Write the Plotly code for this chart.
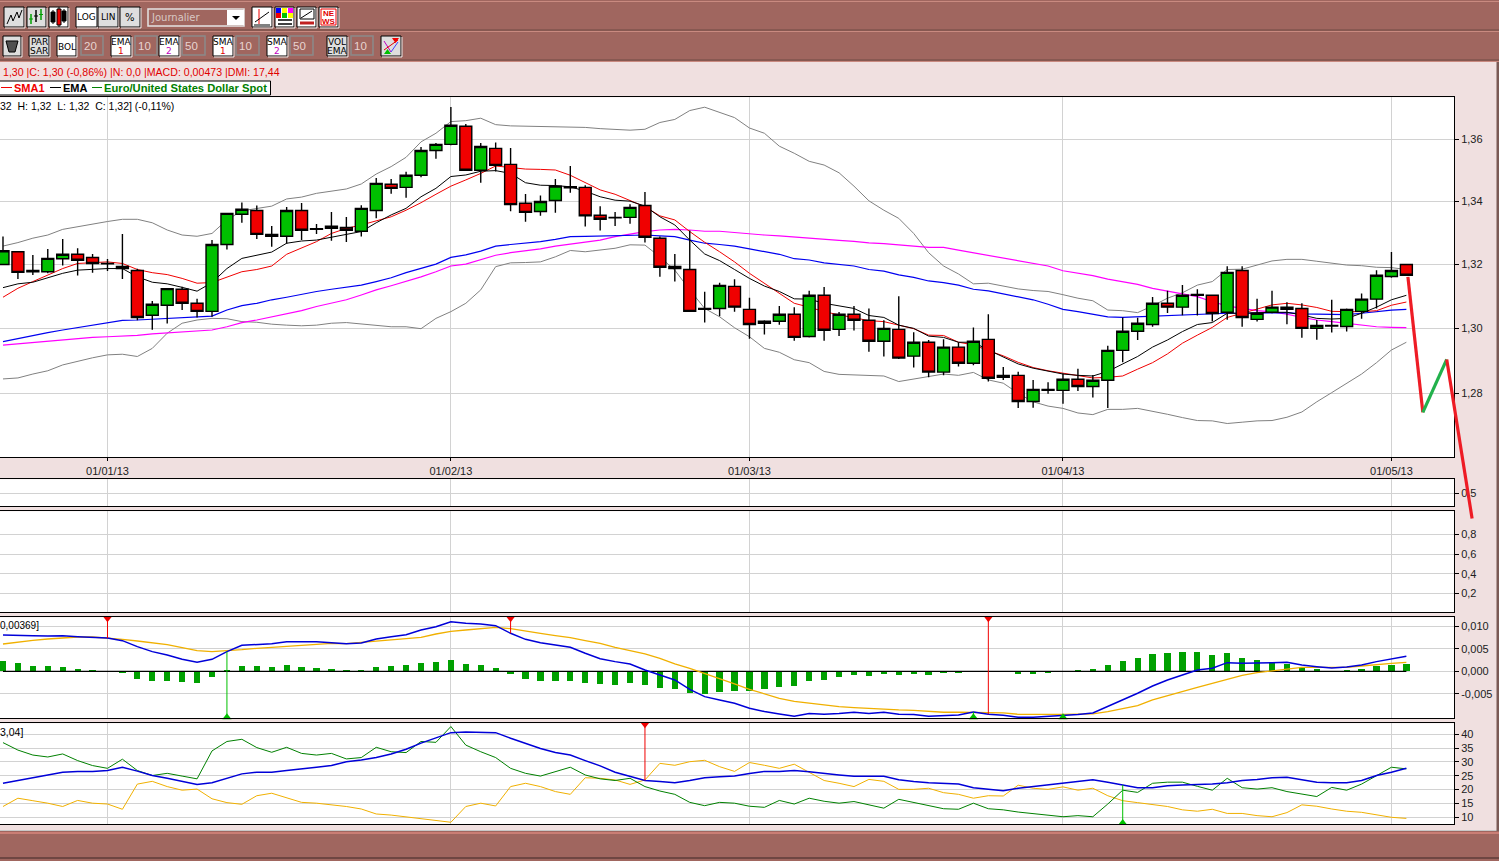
import plotly.graph_objects as go

W, H = 1499, 861

opens = [1.3200,1.3240,1.3177,1.3177,1.3218,1.3232,1.3222,1.3202,1.3194,1.3181,1.3041,1.3072,1.3122,1.3078,1.3053,1.3263,1.3359,1.3371,1.3295,1.3289,
1.3371,1.3311,1.3314,1.3317,1.3305,1.3371,1.3455,1.3445,1.3484,1.3564,1.3584,1.3643,1.3500,1.3571,1.3519,1.3394,1.3368,1.3403,1.3444,1.3445,
1.3356,1.3348,1.3349,1.3387,1.3283,1.3187,1.3184,1.3059,1.3062,1.3131,1.3059,1.3016,1.3022,1.3044,1.2975,1.3103,1.2997,1.3044,1.3025,1.2960,
1.2997,1.2914,1.2957,1.2865,1.2942,1.2892,1.2966,1.2849,1.2855,1.2775,1.2809,1.2809,1.2843,1.2821,1.2840,1.2932,1.2991,1.3012,1.3078,1.3066,
1.3103,1.3103,1.3050,1.3181,1.3028,1.3050,1.3066,1.3062,1.3000,1.3007,1.3006,1.3053,1.3091,1.3162,1.3200]
closes = [1.3243,1.3175,1.3181,1.3219,1.3232,1.3213,1.3203,1.3203,1.3187,1.3034,1.3075,1.3124,1.3078,1.3053,1.3263,1.3362,1.3375,1.3295,1.3289,1.3371,
1.3308,1.3313,1.3321,1.3308,1.3378,1.3458,1.3442,1.3484,1.3564,1.3584,1.3646,1.3500,1.3577,1.3516,1.3390,1.3365,1.3400,1.3449,1.3447,1.3354,
1.3343,1.3349,1.3381,1.3286,1.3191,1.3194,1.3053,1.3062,1.3134,1.3066,1.3012,1.3022,1.3044,1.2972,1.3103,1.2994,1.3044,1.3025,1.2960,1.3000,
1.2908,1.2957,1.2865,1.2942,1.2892,1.2960,1.2846,1.2855,1.2775,1.2812,1.2812,1.2843,1.2821,1.2840,1.2932,1.2991,1.3016,1.3078,1.3066,1.3103,
1.3106,1.3046,1.3175,1.3034,1.3047,1.3066,1.3059,1.3000,1.3009,1.3009,1.3059,1.3091,1.3166,1.3181,1.3166]
highs = [1.3288,1.3240,1.3230,1.3249,1.3280,1.3251,1.3233,1.3217,1.3296,1.3186,1.3085,1.3124,1.3130,1.3092,1.3277,1.3362,1.3397,1.3387,1.3322,1.3382,
1.3395,1.3328,1.3366,1.3350,1.3388,1.3475,1.3472,1.3495,1.3575,1.3588,1.3706,1.3650,1.3588,1.3590,1.3572,1.3424,1.3419,1.3472,1.3514,1.3452,
1.3385,1.3366,1.3391,1.3430,1.3288,1.3233,1.3307,1.3114,1.3142,1.3153,1.3095,1.3025,1.3070,1.3066,1.3117,1.3129,1.3051,1.3070,1.3062,1.3025,
1.3100,1.2988,1.2964,1.2966,1.2957,1.3003,1.3044,1.2881,1.2866,1.2841,1.2834,1.2861,1.2875,1.2856,1.2946,1.3034,1.3033,1.3098,1.3117,1.3135,
1.3122,1.3103,1.3194,1.3194,1.3092,1.3117,1.3081,1.3078,1.3026,1.3089,1.3062,1.3109,1.3182,1.3239,1.3200]
lows = [1.3200,1.3154,1.3167,1.3172,1.3197,1.3165,1.3174,1.3179,1.3154,1.3025,1.2996,1.3015,1.3057,1.3034,1.3036,1.3247,1.3332,1.3280,1.3256,1.3265,
1.3277,1.3296,1.3275,1.3271,1.3288,1.3346,1.3425,1.3412,1.3478,1.3537,1.3581,1.3500,1.3460,1.3496,1.3369,1.3335,1.3354,1.3364,1.3428,1.3320,
1.3307,1.3322,1.3329,1.3269,1.3161,1.3146,1.3053,1.3018,1.3038,1.3052,1.2968,1.2981,1.3011,1.2962,1.2972,1.2962,1.2976,1.2993,1.2928,1.2913,
1.2905,1.2879,1.2849,1.2855,1.2882,1.2886,1.2836,1.2841,1.2755,1.2756,1.2799,1.2768,1.2807,1.2787,1.2755,1.2895,1.2964,1.3005,1.3048,1.3041,
1.3040,1.3021,1.3027,1.3005,1.3021,1.3047,1.3013,1.2971,1.2965,1.2987,1.2990,1.3030,1.3062,1.3158,1.3166]

boll_upper = [1.3258,1.3269,1.3283,1.3293,1.3311,1.3320,1.3327,1.3336,1.3343,1.3343,1.3332,1.3309,1.3293,1.3289,1.3298,1.3341,1.3370,1.3377,1.3385,1.3408,
1.3414,1.3426,1.3434,1.3440,1.3456,1.3488,1.3512,1.3542,1.3592,1.3620,1.3658,1.3661,1.3669,1.3648,1.3644,1.3643,1.3643,1.3643,1.3640,1.3639,
1.3635,1.3633,1.3630,1.3633,1.3655,1.3665,1.3694,1.3705,1.3687,1.3671,1.3637,1.3620,1.3578,1.3555,1.3529,1.3517,1.3492,1.3449,1.3402,1.3372,
1.3346,1.3298,1.3237,1.3195,1.3170,1.3139,1.3141,1.3133,1.3123,1.3118,1.3115,1.3105,1.3094,1.3086,1.3057,1.3055,1.3049,1.3070,1.3094,1.3111,
1.3135,1.3146,1.3184,1.3185,1.3198,1.3211,1.3216,1.3216,1.3210,1.3203,1.3198,1.3196,1.3191,1.3190,1.3184]
boll_lower = [1.2844,1.2847,1.2859,1.2869,1.2887,1.2899,1.2909,1.2918,1.2920,1.2913,1.2938,1.2985,1.3016,1.3026,1.3031,1.3030,1.3021,1.3019,1.3013,1.3010,
1.3008,1.3010,1.3016,1.3018,1.3013,1.3010,1.3005,1.3005,1.2999,1.3031,1.3052,1.3078,1.3120,1.3193,1.3205,1.3206,1.3208,1.3224,1.3244,1.3240,
1.3245,1.3251,1.3262,1.3261,1.3224,1.3182,1.3120,1.3062,1.3036,1.3002,1.2974,1.2938,1.2926,1.2903,1.2894,1.2867,1.2858,1.2857,1.2854,1.2853,
1.2836,1.2843,1.2851,1.2859,1.2855,1.2864,1.2841,1.2831,1.2800,1.2774,1.2761,1.2754,1.2740,1.2735,1.2751,1.2751,1.2754,1.2746,1.2736,1.2726,
1.2717,1.2716,1.2708,1.2712,1.2716,1.2717,1.2727,1.2743,1.2774,1.2802,1.2831,1.2859,1.2894,1.2933,1.2957]
sma_short = [1.3097,1.3125,1.3146,1.3167,1.3187,1.3203,1.3205,1.3208,1.3203,1.3184,1.3174,1.3168,1.3156,1.3141,1.3143,1.3161,1.3177,1.3184,1.3195,1.3232,
1.3251,1.3272,1.3298,1.3314,1.3325,1.3339,1.3351,1.3372,1.3396,1.3423,1.3449,1.3469,1.3490,1.3514,1.3509,1.3504,1.3503,1.3501,1.3484,1.3460,
1.3437,1.3423,1.3402,1.3383,1.3354,1.3341,1.3304,1.3270,1.3240,1.3208,1.3172,1.3141,1.3109,1.3078,1.3066,1.3052,1.3042,1.3034,1.3024,1.3021,
1.3010,1.2999,1.2979,1.2978,1.2957,1.2949,1.2931,1.2915,1.2895,1.2879,1.2869,1.2861,1.2853,1.2847,1.2849,1.2853,1.2874,1.2894,1.2921,1.2954,
1.2979,1.3003,1.3034,1.3047,1.3062,1.3073,1.3078,1.3073,1.3065,1.3053,1.3052,1.3052,1.3055,1.3072,1.3082]
ema_short = [1.3127,1.3139,1.3144,1.3159,1.3172,1.3182,1.3185,1.3187,1.3187,1.3161,1.3144,1.3139,1.3128,1.3116,1.3143,1.3187,1.3219,1.3230,1.3239,1.3267,
1.3274,1.3277,1.3286,1.3293,1.3304,1.3332,1.3357,1.3378,1.3415,1.3442,1.3480,1.3485,1.3497,1.3499,1.3490,1.3460,1.3452,1.3451,1.3447,1.3433,
1.3415,1.3404,1.3401,1.3385,1.3351,1.3325,1.3277,1.3233,1.3212,1.3184,1.3156,1.3132,1.3115,1.3092,1.3091,1.3078,1.3070,1.3062,1.3040,1.3034,
1.3010,1.3000,1.2976,1.2972,1.2957,1.2957,1.2933,1.2911,1.2890,1.2877,1.2867,1.2859,1.2855,1.2853,1.2867,1.2890,1.2913,1.2942,1.2964,1.2990,
1.3012,1.3018,1.3047,1.3047,1.3049,1.3050,1.3050,1.3042,1.3031,1.3029,1.3031,1.3047,1.3066,1.3089,1.3103]
ema_long = [1.2959,1.2969,1.2977,1.2987,1.2995,1.3003,1.3010,1.3018,1.3025,1.3026,1.3028,1.3031,1.3033,1.3035,1.3038,1.3057,1.3071,1.3078,1.3089,1.3097,
1.3107,1.3115,1.3122,1.3128,1.3135,1.3146,1.3158,1.3174,1.3187,1.3201,1.3222,1.3230,1.3242,1.3258,1.3263,1.3267,1.3272,1.3279,1.3288,1.3289,
1.3290,1.3292,1.3294,1.3293,1.3290,1.3288,1.3277,1.3267,1.3263,1.3258,1.3249,1.3240,1.3232,1.3218,1.3214,1.3205,1.3201,1.3195,1.3184,1.3179,
1.3167,1.3159,1.3148,1.3143,1.3135,1.3122,1.3117,1.3107,1.3097,1.3089,1.3075,1.3059,1.3052,1.3045,1.3036,1.3034,1.3036,1.3036,1.3038,1.3041,
1.3043,1.3044,1.3047,1.3047,1.3047,1.3049,1.3049,1.3045,1.3044,1.3042,1.3043,1.3047,1.3052,1.3057,1.3059]
sma_long = [1.2948,1.2952,1.2957,1.2962,1.2966,1.2968,1.2972,1.2974,1.2976,1.2978,1.2983,1.2986,1.2988,1.2990,1.2995,1.3005,1.3018,1.3026,1.3036,1.3045,
1.3055,1.3068,1.3078,1.3089,1.3104,1.3120,1.3133,1.3146,1.3161,1.3177,1.3195,1.3201,1.3214,1.3229,1.3237,1.3243,1.3249,1.3258,1.3265,1.3272,
1.3277,1.3288,1.3296,1.3304,1.3309,1.3311,1.3309,1.3305,1.3305,1.3301,1.3295,1.3293,1.3290,1.3286,1.3283,1.3280,1.3276,1.3273,1.3268,1.3266,
1.3263,1.3258,1.3254,1.3254,1.3245,1.3237,1.3229,1.3221,1.3212,1.3205,1.3195,1.3180,1.3172,1.3165,1.3154,1.3146,1.3137,1.3125,1.3117,1.3107,
1.3099,1.3083,1.3070,1.3062,1.3055,1.3051,1.3044,1.3034,1.3026,1.3021,1.3015,1.3009,1.3005,1.3003,1.3002]

overlay_up_x = [94.1, 95.1]
overlay_up_y = [1.3161, 1.2742]
overlay_mid_x = [95.1, 96.7]
overlay_mid_y = [1.2742, 1.2904]
overlay_down_x = [96.7, 98.4]
overlay_down_y = [1.2904, 1.2423]

macd_hist = [.00229,.00185,.00118,.00118,.00096,.00052,.00030,0,-.00030,-.00170,-.00215,-.00215,-.00237,-.00252,-.00126,.00030,.00118,.00118,.00096,.00141,
.00096,.00074,.00052,.00030,.00030,.00096,.00118,.00141,.00185,.00207,.00252,.00163,.00141,.00074,-.00059,-.00170,-.00215,-.00215,-.00215,-.00259,
-.00281,-.00303,-.00259,-.00303,-.00370,-.00385,-.00474,-.00503,-.00459,-.00437,-.00437,-.00392,-.00348,-.00326,-.00215,-.00192,-.00126,-.00081,-.00104,-.00059,
-.00081,-.00059,-.00081,-.00037,-.00037,0,0,0,-.00059,-.00059,-.00030,0,.00030,.00052,.00141,.00229,.00296,.00385,.00407,.00429,
.00429,.00363,.00407,.00296,.00252,.00200,.00163,.00096,.00052,0,.00030,.00052,.00118,.00141,.00163]
macd_line = [.00807,.00807,.00792,.00784,.00792,.00770,.00755,.00740,.00681,.00548,.00437,.00363,.00266,.00200,.00266,.00437,.00577,.00599,.00614,.00659,
.00659,.00659,.00636,.00614,.00629,.00718,.00770,.00814,.00918,.00992,.01103,.01066,.01051,.01014,.00844,.00710,.00636,.00585,.00533,.00400,
.00281,.00215,.00163,.00030,-.00081,-.00192,-.00400,-.00562,-.00636,-.00710,-.00821,-.00895,-.00947,-.00999,-.00940,-.00955,-.00940,-.00910,-.00940,-.00910,
-.00955,-.00962,-.00999,-.00977,-.00969,-.00903,-.00955,-.00977,-.01021,-.01021,-.01006,-.00977,-.00962,-.00925,-.00784,-.00636,-.00488,-.00326,-.00192,-.00081,
.00030,.00067,.00192,.00178,.00178,.00192,.00200,.00141,.00104,.00074,.00096,.00141,.00215,.00274,.00333]
macd_signal = [.00607,.00651,.00688,.00718,.00747,.00762,.00762,.00740,.00710,.00673,.00636,.00592,.00525,.00459,.00437,.00451,.00481,.00511,.00533,.00562,
.00592,.00607,.00622,.00614,.00644,.00659,.00688,.00718,.00755,.00829,.00888,.00918,.00955,.00977,.00947,.00903,.00844,.00792,.00747,.00681,
.00622,.00533,.00459,.00385,.00289,.00163,.00067,-.00044,-.00155,-.00281,-.00400,-.00503,-.00599,-.00666,-.00710,-.00755,-.00784,-.00807,-.00829,-.00844,
-.00858,-.00866,-.00895,-.00910,-.00910,-.00910,-.00918,-.00925,-.00955,-.00962,-.00955,-.00955,-.00955,-.00947,-.00895,-.00836,-.00762,-.00636,-.00548,-.00444,
-.00355,-.00266,-.00178,-.00089,-.00030,.00015,.00059,.00089,.00089,.00089,.00089,.00118,.00155,.00178,.00200]
macd_zero = [0] * 95
macd_sell = [7, 34, 66]
macd_buy = [15, 65, 71]

adx = [22.3,23.3,24.1,25.3,26.3,26.6,26.6,26.9,28.1,26.7,25.1,24.1,22.9,21.9,22.5,24.1,25.7,26.3,26.3,26.9,
27.4,28.1,28.7,30.1,30.7,31.6,32.9,34.6,36.8,38.6,40.6,40.8,40.6,40.6,38.6,36.8,34.9,33.4,32.5,30.5,
28.6,26.3,24.7,23.3,22.9,22.5,23.3,24.3,24.7,24.9,25.8,26.6,26.6,26.9,26.5,25.8,25.3,24.8,24.8,24.8,
23.6,22.9,22.5,22.2,22.0,20.7,20.2,19.6,20.5,21.1,21.7,22.5,23.1,23.6,22.7,21.7,20.7,20.7,21.4,21.7,
21.8,22.0,22.5,23.3,23.7,24.3,24.5,23.5,22.7,22.5,22.5,23.3,25.1,26.3,27.7]
di_plus = [37.0,34.3,32.5,31.8,32.9,30.5,28.7,27.7,31.0,26.9,25.1,25.9,24.9,23.9,34.0,37.4,38.2,35.2,33.5,35.3,
33.1,32.5,33.1,31.1,31.6,35.3,33.7,33.4,37.4,37.1,42.8,36.1,33.7,31.6,27.7,25.9,24.9,26.5,28.1,25.3,
23.9,23.3,24.1,21.1,19.5,18.3,15.4,14.2,15.4,15.1,14.0,13.6,16.1,14.8,16.9,15.8,15.1,15.7,14.5,13.3,
16.5,15.4,14.2,13.1,12.9,15.1,13.1,12.7,11.9,11.4,10.8,10.2,10.6,10.2,14.8,19.8,19.0,22.3,22.7,22.7,
21.2,19.8,24.1,20.7,20.2,20.7,19.3,18.3,17.5,20.8,19.8,22.0,25.1,28.1,27.5]
di_minus = [13.9,16.9,16.0,15.1,13.9,16.1,15.1,14.8,12.9,22.0,23.0,21.1,19.8,20.2,16.7,15.3,14.7,17.8,18.7,17.1,
15.4,15.1,14.5,13.9,13.0,11.2,10.8,10.2,9.4,8.8,8.2,13.9,15.1,14.1,21.1,22.3,21.1,19.3,18.3,24.3,
24.1,23.5,21.9,23.5,29.5,28.8,30.1,30.6,28.3,26.6,29.8,28.8,27.7,29.2,26.3,23.3,22.3,21.1,23.7,23.0,
20.1,20.1,20.5,18.9,18.3,16.9,17.8,17.7,21.6,20.5,20.1,21.0,19.8,20.5,17.8,16.0,15.3,14.7,13.9,12.7,
12.2,12.9,11.4,11.4,10.6,10.2,11.7,14.5,14.0,13.0,12.2,11.8,10.8,10.0,9.6]
dmi_sell = [43]
dmi_buy = [75]

date_ticks = [7, 30, 50, 71, 93]
date_labels = ["01/01/13", "01/02/13", "01/03/13", "01/04/13", "01/05/13"]
price_ticks = [1.28, 1.30, 1.32, 1.34, 1.36]
price_labels = ["1,28", "1,30", "1,32", "1,34", "1,36"]
strip_ticks = [0.5]
strip_labels = ["0,5"]
vol_ticks = [0.2, 0.4, 0.6, 0.8]
vol_labels = ["0,2", "0,4", "0,6", "0,8"]
macd_ticks = [-0.005, 0, 0.005, 0.010]
macd_labels = ["-0,005", "0,000", "0,005", "0,010"]
dmi_ticks = [10, 15, 20, 25, 30, 35, 40]
dmi_labels = ["10", "15", "20", "25", "30", "35", "40"]

for s in (opens, closes, highs, lows, boll_upper, boll_lower, sma_short, ema_short, ema_long, sma_long,
          macd_hist, macd_line, macd_signal, adx, di_plus, di_minus):
    assert len(s) == 95, len(s)

idx = list(range(95))
BROWN, PALE = "#A0665F", "#F0E0E0"
GRID = "#D2D2D2"
SANS = "Liberation Sans"

fig = go.Figure()

def line(x, y, color, width, xa="x", ya="y"):
    fig.add_trace(go.Scatter(x=x, y=y, mode="lines", line=dict(color=color, width=width),
                             xaxis=xa, yaxis=ya, hoverinfo="skip", showlegend=False))

# price panel: indicator lines under the candles
line(idx, boll_upper, "#808080", 1)
line(idx, boll_lower, "#808080", 1)
line(idx, sma_long, "#FF00FF", 1.2)
line(idx, ema_long, "#0000F0", 1.2)
line(idx, sma_short, "#F00000", 1)
line(idx, ema_short, "#000000", 1)

fig.add_trace(go.Candlestick(x=idx, open=opens, high=highs, low=lows, close=closes,
    increasing=dict(fillcolor="#00C000", line=dict(color="#000000", width=1.4)),
    decreasing=dict(fillcolor="#F00000", line=dict(color="#000000", width=1.4)),
    whiskerwidth=0, xaxis="x", yaxis="y6", hoverinfo="skip", showlegend=False))

# strip and volume panels: empty, only the axes
fig.add_trace(go.Scatter(x=[0], y=[0.5], mode="markers", marker=dict(opacity=0), xaxis="x2", yaxis="y2",
                         hoverinfo="skip", showlegend=False))
fig.add_trace(go.Scatter(x=[0], y=[0.5], mode="markers", marker=dict(opacity=0), xaxis="x3", yaxis="y3",
                         hoverinfo="skip", showlegend=False))

# MACD
fig.add_trace(go.Bar(x=idx, y=macd_hist, width=0.42, marker=dict(color="#00A000", line=dict(width=0)),
                     xaxis="x4", yaxis="y4", hoverinfo="skip", showlegend=False))
line(idx, macd_zero, "#000000", 1.2, "x4", "y4")
line(idx, macd_signal, "#F0B000", 1.3, "x4", "y4")
line(idx, macd_line, "#0000D8", 1.5, "x4", "y4")

MACD_TOP, MACD_BOT = 0.0118, -0.0102
DMI_TOP, DMI_BOT = 43.6, 7.9

def signals(points, series, edge, color, symbol, xa, ya):
    for i in points:
        line([i, i], [edge, series[i]], color, 1, xa, ya)
    fig.add_trace(go.Scatter(x=points, y=[edge] * len(points), mode="markers",
                             marker=dict(symbol=symbol, size=8, color=color, line=dict(width=0)),
                             cliponaxis=False, xaxis=xa, yaxis=ya, hoverinfo="skip", showlegend=False))

signals(macd_sell, macd_line, MACD_TOP, "#F00000", "triangle-down", "x4", "y4")
signals(macd_buy, macd_line, MACD_BOT, "#00C000", "triangle-up", "x4", "y4")

# DMI
line(idx, di_minus, "#F0B000", 1, "x5", "y5")
line(idx, di_plus, "#008000", 1, "x5", "y5")
line(idx, adx, "#0000D8", 1.5, "x5", "y5")
signals(dmi_sell, adx, DMI_TOP, "#F00000", "triangle-down", "x5", "y5")
signals(dmi_buy, adx, DMI_BOT, "#00C000", "triangle-up", "x5", "y5")

# the hand-drawn zigzag runs out of the panel, so it has its own invisible axes in the price scale
for xs, ys, c in ((overlay_up_x, overlay_up_y, "#EE1C25"), (overlay_mid_x, overlay_mid_y, "#22B14C"),
                  (overlay_down_x, overlay_down_y, "#EE1C25")):
    fig.add_trace(go.Scatter(x=xs, y=ys, mode="lines", line=dict(color=c, width=3.2),
                             xaxis="x6", yaxis="y7", hoverinfo="skip", showlegend=False))

# ---------- page furniture, in window pixels ----------
shapes, notes = [], []
px = lambda x: x / W
py = lambda y: 1 - y / H

def rect(x0, y0, x1, y1, fill, edge=None, w=1, layer="above"):
    shapes.append(dict(type="rect", xref="paper", yref="paper", x0=px(x0), x1=px(x1), y0=py(y0), y1=py(y1),
                       fillcolor=fill, line=dict(color=edge or fill, width=w if edge else 0), layer=layer))

def seg(x0, y0, x1, y1, color, w=1):
    shapes.append(dict(type="line", xref="paper", yref="paper", x0=px(x0), x1=px(x1), y0=py(y0), y1=py(y1),
                       line=dict(color=color, width=w), layer="above"))

def text(x, y, s, color="#000000", size=11, anchor="left", bold=False, family=SANS):
    notes.append(dict(xref="paper", yref="paper", x=px(x), y=py(y), text=f"<b>{s}</b>" if bold else s,
                      showarrow=False, xanchor=anchor, yanchor="middle", align=anchor,
                      font=dict(family=family, size=size, color=color), borderpad=0, borderwidth=0))

def button(x0, y0, x1, y1, fill="#FFFFFF"):
    rect(x0, y0, x1, y1, fill, "#000000", 1)
    seg(x0 + 1, y1 + 1, x1 + 1, y1 + 1, "#E8E8E8", 1)
    seg(x1 + 1, y0 + 1, x1 + 1, y1 + 1, "#E8E8E8", 1)

def valuebox(x0, y0, x1, y1, s):
    rect(x0, y0, x1, y1, BROWN, "#8A8A8A", 1.5)
    text(x0 + 3, (y0 + y1) / 2, s, "#E8D4D0", 11.5, "left")

# white panel backgrounds, under the plots
for top, bottom in ((97.3, 457.3), (479.3, 506.3), (511.3, 612.3), (617.3, 718.3), (723.3, 824.3)):
    rect(0, top, 1454, bottom, "#FFFFFF", layer="below")

# bars
rect(0, 0, W, 62, BROWN)
rect(0, 831, W, H, BROWN)
seg(0, 1.5, W, 1.5, "#C98A80", 1)
seg(0, 30, W, 30, "#6E4A45", 1)
seg(0, 31.5, W, 31.5, "#C98A80", 1)
seg(0, 60, W, 60, "#6E4A45", 1)
seg(0, 61.5, W, 61.5, "#C98A80", 1)
seg(0, 830.5, W, 830.5, "#C8C8C8", 1)
seg(0, 833, W, 833, "#D8877C", 1.5)
seg(0, 858, W, 858, "#5E3C38", 1.5)
rect(1496.5, 62, W, 831, "#7A5A55")

# top row buttons
SW = "#DEDEDE"
button(4, 7, 24, 27, SW)
shapes.append(dict(type="path", xref="paper", yref="paper", layer="above", line=dict(color="#000000", width=1),
    path="M %f %f L %f %f L %f %f L %f %f L %f %f L %f %f" % (px(7), py(24), px(11), py(15), px(13), py(21), px(17), py(12), px(19), py(18), px(22), py(10))))
button(27, 7, 46, 27, SW)
for x, y0, y1, c in ((31, 14, 24, "#00A000"), (36, 10, 22, "#000000"), (41, 9, 20, "#00A000")):
    seg(x, y0, x, y1, c, 1.5)
    seg(x - 2, (y0 + y1) / 2, x + 2, (y0 + y1) / 2, c, 1)
button(49, 7, 68, 27)
for x, y0, y1, c in ((53, 12, 22, "#000000"), (59, 9, 25, "#F00000"), (64, 11, 21, "#000000")):
    seg(x, y0 - 2, x, y1 + 2, "#000000", 1)
    rect(x - 2, y0, x + 2, y1, c, "#000000", 1)
button(76, 7, 97, 27)
text(86.5, 17.5, "LOG", size=9, anchor="center", family="DejaVu Sans")
button(98, 7, 118, 27, SW)
text(108, 17.5, "LIN", size=9, anchor="center", family="DejaVu Sans")
button(120, 7, 140, 27, SW)
text(130, 17.5, "%", size=10, anchor="center", family="DejaVu Sans")
rect(148, 9, 244, 26, BROWN, "#E4E4E4", 1.5)
text(151, 17.5, "Journalier", "#D8C8C4", 10, family="DejaVu Sans")
rect(227, 10, 244, 25, "#FFFFFF")
shapes.append(dict(type="path", xref="paper", yref="paper", layer="above", fillcolor="#000000", line=dict(width=0),
    path="M %f %f L %f %f L %f %f Z" % (px(232), py(16), px(240), py(16), px(236), py(20))))

button(252, 7, 272, 27)
seg(259, 9, 259, 25, "#F00000", 1)
seg(255, 22, 269, 12, "#000000", 1)
seg(254, 25, 270, 25, "#808080", 2)
button(275, 7, 294, 27)
for x, y, c in ((278, 10, "#0000FF"), (284, 10, "#FFFF00"), (290, 10, "#FF00FF"), (278, 15, "#F00000"), (284, 15, "#00C000"), (290, 15, "#FFFF00")):
    rect(x - 2, y - 2, x + 3, y + 3, c)
seg(278, 20, 292, 20, "#000000", 1.5)
seg(278, 24, 292, 24, "#000000", 1.5)
button(297, 7, 316, 27)
rect(300, 9, 314, 19, "#FFFFFF", "#000000", 1)
seg(301, 18, 312, 11, "#000000", 1)
seg(300, 23, 314, 23, "#C02020", 3)
button(319, 7, 338, 27)
rect(321, 9, 336, 25, "#FFFFFF", "#F00000", 1)
text(328.5, 13.5, "NE", "#E00000", 8, "center", True)
text(328.5, 21, "WS", "#E00000", 8, "center", True)

# second row
button(3, 36, 21, 56, SW)
shapes.append(dict(type="path", xref="paper", yref="paper", layer="above", fillcolor="#505050", line=dict(color="#000000", width=1),
    path="M %f %f L %f %f L %f %f L %f %f Z" % (px(6), py(41), px(18), py(41), px(15), py(52), px(9), py(52))))
def two(x0, x1, a, b, fill="#FFFFFF", c2="#000000"):
    button(x0, 36, x1, 56, fill)
    text((x0 + x1) / 2, 41.5, a, size=9, anchor="center", family="DejaVu Sans")
    text((x0 + x1) / 2, 51, b, c2, 9, "center", family="DejaVu Sans")
two(29, 49, "PAR", "SAR", SW)
button(57, 36, 76, 56)
text(66.5, 46.5, "BOL", size=9, anchor="center", family="DejaVu Sans")
valuebox(81, 36, 103, 55, "20")
two(111, 131, "EMA", "1", c2="#E00000")
valuebox(135, 36, 157, 55, "10")
two(159, 179, "EMA", "2", c2="#C000C0")
valuebox(182, 36, 205, 55, "50")
two(213, 233, "SMA", "1", c2="#E00000")
valuebox(236, 36, 259, 55, "10")
two(267, 287, "SMA", "2", c2="#C000C0")
valuebox(290, 36, 313, 55, "50")
two(327, 347, "VOL", "EMA", SW)
valuebox(351, 36, 373, 55, "10")
button(381, 36, 401, 56, SW)
seg(384, 41, 391, 52, "#C000C0", 1)
seg(391, 52, 398, 42, "#4040FF", 1)
seg(384, 50, 398, 40, "#E00000", 1)
shapes.append(dict(type="path", xref="paper", yref="paper", layer="above", fillcolor="#F00000", line=dict(width=0),
    path="M %f %f L %f %f L %f %f Z" % (px(392), py(38), px(399), py(38), px(395.5), py(43))))
shapes.append(dict(type="path", xref="paper", yref="paper", layer="above", fillcolor="#00C000", line=dict(width=0),
    path="M %f %f L %f %f L %f %f Z" % (px(384), py(54), px(391), py(54), px(387.5), py(49))))

# info lines and legend
text(3, 72.5, "1,30 |C: 1,30 (-0,86%) |N: 0,0 |MACD: 0,00473 |DMI: 17,44", "#E00000", 10.6)
rect(-2, 81, 270.5, 95, "#FFFFFF", "#000000", 1)
seg(1, 87.5, 12, 87.5, "#F00000", 1)
text(14, 88, "SMA1", "#F00000", 11, bold=True)
seg(50, 87.5, 61, 87.5, "#000000", 1)
text(62.5, 88, "EMA", "#000000", 11, bold=True)
seg(92, 87.5, 102, 87.5, "#008000", 1)
text(104, 88, "Euro/United States Dollar Spot", "#008000", 11.2, bold=True)
text(0, 105.5, "32&nbsp;&nbsp;H: 1,32&nbsp;&nbsp;L: 1,32&nbsp;&nbsp;C: 1,32] (-0,11%)", "#000000", 10.5)
text(0, 625.5, "0,00369]", "#000000", 10)
text(0, 731.5, "3,04]", "#000000", 10.5)

XR = [-0.2, 97.19]
XD = [0, 1454 / W]

def xaxis(anchor, labels=False):
    d = dict(domain=XD, range=XR, anchor=anchor, showgrid=True, gridcolor=GRID, gridwidth=1, zeroline=False,
             tickmode="array", tickvals=date_ticks, showline=True, mirror=True, linecolor="#000000", linewidth=1,
             fixedrange=True)
    if labels:
        d.update(ticktext=date_labels, ticks="outside", ticklen=3, tickcolor="#000000",
                 tickfont=dict(family=SANS, size=11, color="#202020"), rangeslider=dict(visible=False))
    else:
        d.update(showticklabels=False, ticks="", matches="x")
    return d

def yaxis(top, bottom, rng, vals, labels, anchor):
    return dict(domain=[1 - bottom / H, 1 - top / H], range=rng, anchor=anchor, side="right", tickmode="array",
                tickvals=vals, ticktext=labels, showgrid=True, gridcolor=GRID, gridwidth=1, zeroline=False,
                showline=True, linecolor="#000000", linewidth=1, ticks="outside", ticklen=4, tickcolor="#000000",
                tickfont=dict(family=SANS, size=11, color="#202020"), fixedrange=True)

PRICE_RANGE = [0.100573, 0.137905]
y1 = yaxis(97.3, 457.3, PRICE_RANGE, price_ticks, price_labels, "x")
y1["type"] = "log"
y6 = dict(overlaying="y", side="right", type="log", range=PRICE_RANGE, showgrid=False, showticklabels=False,
          ticks="", zeroline=False, showline=False, anchor="x", fixedrange=True)
hidden = dict(visible=False, showgrid=False, zeroline=False, showticklabels=False, fixedrange=True)
x6 = dict(hidden, domain=[1400 / W, 1480 / W], range=[93.57, 98.93], anchor="y7")
y7 = dict(hidden, domain=[1 - 530 / H, 1 - 264 / H], type="log", range=[0.093033, 0.120618], anchor="x6")

fig.update_layout(
    width=W, height=H, autosize=False, margin=dict(l=0, r=0, t=0, b=0, pad=0),
    paper_bgcolor=PALE, plot_bgcolor="rgba(0,0,0,0)", showlegend=False, bargap=0, boxgap=0.2, boxgroupgap=0,
    hovermode=False, dragmode=False,
    xaxis=xaxis("y", True), xaxis2=xaxis("y2"), xaxis3=xaxis("y3"), xaxis4=xaxis("y4"), xaxis5=xaxis("y5"),
    xaxis6=x6, yaxis=y1, yaxis6=y6, yaxis7=y7,
    yaxis2=yaxis(479.3, 506.3, [0.368, 0.642], strip_ticks, strip_labels, "x2"),
    yaxis3=yaxis(511.3, 612.3, [0.0081, 1.0335], vol_ticks, vol_labels, "x3"),
    yaxis4=yaxis(617.3, 718.3, [-0.01044, 0.0120], macd_ticks, macd_labels, "x4"),
    yaxis5=yaxis(723.3, 824.3, [7.47, 43.98], dmi_ticks, dmi_labels, "x5"),
    shapes=shapes, annotations=notes,
)

fig.write_html("out.html", config=dict(displayModeBar=False, staticPlot=True),
               post_script="document.body.style.margin='0';document.documentElement.style.overflow='hidden';")
